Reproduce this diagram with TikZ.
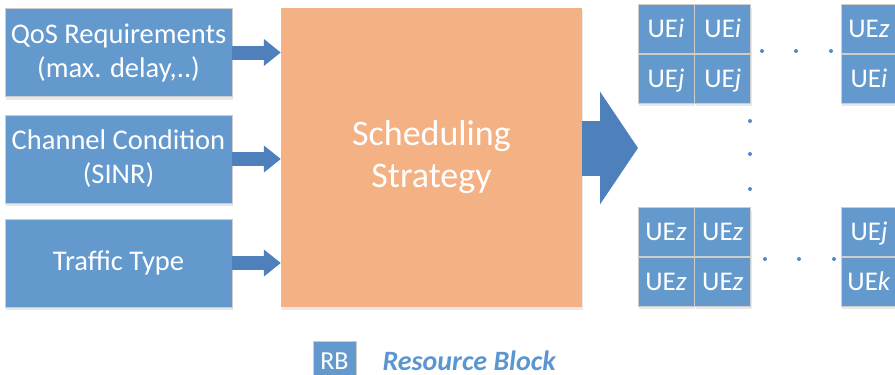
\documentclass[tikz,border=0pt]{standalone}
\usepackage{fontspec}
\setmainfont{Carlito}
\usetikzlibrary{arrows.meta,positioning,shadows}

\definecolor{boxblue}{RGB}{99,153,205}
\definecolor{arrowblue}{RGB}{78,128,188}
\definecolor{schedorange}{RGB}{244,177,131}
\definecolor{cellgray}{RGB}{205,205,205}
\definecolor{dotblue}{RGB}{84,137,198}
\definecolor{legendblue}{RGB}{92,150,208}

\begin{document}
\begin{tikzpicture}[x=1pt, y=-1pt,
  softshadow/.style={drop shadow={shadow xshift=1pt, shadow yshift=-3pt, opacity=0.18}},
  inbox/.style={draw=cellgray, fill=boxblue, text=white, minimum width=227pt,
    minimum height=88pt, align=center, font=\fontsize{28.5}{34}\selectfont, softshadow},
  rb/.style={draw=cellgray, line width=0.8pt, fill=boxblue, text=white, minimum width=56pt,
    minimum height=49pt, inner sep=0pt, text height=17pt, text depth=0pt,
    font=\fontsize{27}{30}\selectfont, softshadow},
  feed/.style={arrowblue, line width=14pt, -{Triangle[width=26pt,length=17pt]}}]
  \useasboundingbox (0,0) rectangle (895,375);
  \clip (0,0) rectangle (895,375);

  % inputs
  \node[inbox] (qos) at (118.5,52.5) {QoS Requirements\\(max. delay,..)};
  \node[inbox] (chan) at (118.5,159) {Channel Condition\\(SINR)};
  \node[inbox] (traf) at (118.5,263) {Traffic Type};

  % scheduler
  \node[fill=schedorange, minimum width=301pt, minimum height=299pt, text=white,
    align=center, font=\fontsize{36}{42}\selectfont, softshadow] (sched) at (431.5,157.5)
    {Scheduling\\Strategy};

  \draw[feed] (qos.east) -- (qos.east -| sched.west);
  \draw[feed] (chan.east) -- (chan.east -| sched.west);
  \draw[feed] (traf.east) -- (traf.east -| sched.west);

  % output arrow
  \coordinate (tip) at (638,148);
  \draw[arrowblue, line width=55pt, -{Triangle[width=111pt,length=38pt]}] (sched.east |- tip) -- (tip);

  % resource blocks, top left
  \node[rb] (a1) at (666,29) {UE\textit{i}};
  \node[rb, right=0pt of a1] (a2) {UE\textit{i}};
  \node[rb, below=0pt of a1] (a3) {UE\textit{j}};
  \node[rb, right=0pt of a3] (a4) {UE\textit{j}};

  % top right
  \node[rb] (b1) at (869,29) {UE\textit{z}};
  \node[rb, below=0pt of b1] (b3) {UE\textit{i}};

  % bottom left
  \node[rb] (c1) at (666,232) {UE\textit{z}};
  \node[rb, right=0pt of c1] (c2) {UE\textit{z}};
  \node[rb, below=0pt of c1] (c3) {UE\textit{z}};
  \node[rb, right=0pt of c3] (c4) {UE\textit{z}};

  % bottom right
  \node[rb] (d1) at (869,232) {UE\textit{j}};
  \node[rb, below=0pt of d1] (d3) {UE\textit{k}};

  % dots
  \foreach \x in {762,796,831} \fill[dotblue] (\x,51) circle (2pt);
  \foreach \x in {765,799,834} \fill[dotblue] (\x,259) circle (2pt);
  \foreach \y in {121,154,189} \fill[dotblue] (750,\y) circle (2pt);

  % legend
  \node[rb, minimum width=43pt, minimum height=40pt, font=\fontsize{26}{30}\selectfont] (key) at (334.5,361) {RB};
  \node[right=26pt of key, inner sep=0pt, text height=18pt, text depth=0pt, text=legendblue,
    font=\fontsize{28}{32}\selectfont\bfseries\itshape] (keytext) {Resource Block};
\end{tikzpicture}
\end{document}
